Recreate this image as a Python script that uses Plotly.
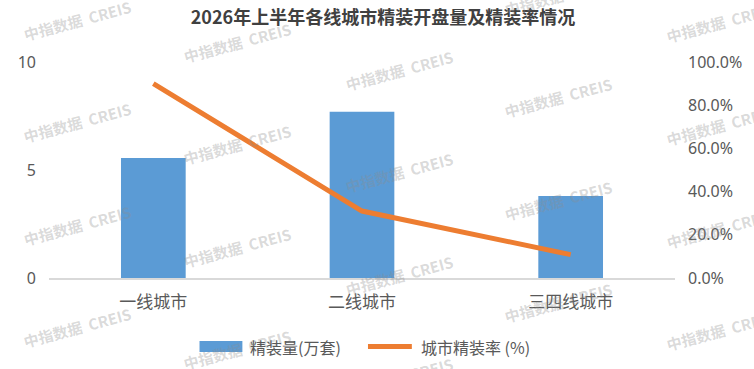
import plotly.graph_objects as go

categories = ["一线城市", "二线城市", "三四线城市"]
volume = [5.55, 7.7, 3.8]          # 精装量(万套)
rate = [0.90, 0.31, 0.108]         # 城市精装率
left_ticks = [0, 5, 10]
right_ticks = [0, 0.2, 0.4, 0.6, 0.8, 1.0]

title_text = "2026年上半年各线城市精装开盘量及精装率情况"
bar_name = "精装量(万套)"
line_name = "城市精装率 (%)"
watermark = "中指数据  CREIS"

CJK = "Noto Sans CJK SC"
GRAY = "#595959"
BLUE = "#5B9BD5"
ORANGE = "#ED7D31"

W, H = 754, 369
ML, MR, MT, MB = 49, 77, 62, 91
PW, PH = W - ML - MR, H - MT - MB


def px(x):
    return (x - ML) / PW


def py(y):
    return (H - MB - y) / PH


fig = go.Figure()
fig.add_trace(go.Bar(x=categories, y=volume, name=bar_name,
                     marker=dict(color=BLUE, line=dict(width=0)),
                     yaxis="y", showlegend=False))
fig.add_trace(go.Scatter(x=categories, y=rate, name=line_name, mode="lines",
                         line=dict(color=ORANGE, width=5),
                         yaxis="y2", showlegend=False))

annotations = []
shapes = []

# watermark grid
col_x = [77, 238, 400, 560, 722]
col_y0 = [20, 42, 70, -5, 23]
for cx, cy in zip(col_x, col_y0):
    for k in range(5):
        y = cy + 102.5 * k
        if y > 400:
            continue
        annotations.append(dict(
            text=watermark, x=px(cx), y=py(y), xref="paper", yref="paper",
            xanchor="center", yanchor="middle", showarrow=False, textangle=-15,
            font=dict(family=CJK, size=15, color="rgba(140,140,140,0.33)", weight="bold")))

# legend (drawn)
shapes.append(dict(type="rect", xref="paper", yref="paper",
                   x0=px(200), x1=px(243), y0=py(352), y1=py(341),
                   fillcolor=BLUE, line=dict(width=0)))
shapes.append(dict(type="line", xref="paper", yref="paper",
                   x0=px(369), x1=px(413), y0=py(346.5), y1=py(346.5),
                   line=dict(color=ORANGE, width=5)))
annotations.append(dict(text=bar_name, x=px(249), y=py(346.5), xref="paper", yref="paper",
                        xanchor="left", yanchor="middle", showarrow=False,
                        font=dict(family=CJK, size=16, color=GRAY)))
annotations.append(dict(text=line_name, x=px(420), y=py(346.5), xref="paper", yref="paper",
                        xanchor="left", yanchor="middle", showarrow=False,
                        font=dict(family=CJK, size=16, color=GRAY)))

fig.update_layout(
    width=W, height=H,
    margin=dict(l=ML, r=MR, t=MT, b=MB),
    paper_bgcolor="white", plot_bgcolor="white",
    title=dict(text=title_text, x=383 / W, xanchor="center", y=1 - 18 / H, yanchor="middle",
               font=dict(family=CJK, size=18, color="#404040", weight="bold")),
    bargap=0.69,
    showlegend=False,
    xaxis=dict(showgrid=False, showline=True, linecolor="#D9D9D9", linewidth=2,
               ticks="", tickfont=dict(family=CJK, size=17, color=GRAY),
               ticklabelstandoff=8),
    yaxis=dict(range=[0, 10], tickvals=left_ticks, showgrid=False, zeroline=False,
               showline=False, ticks="", ticklabelstandoff=12,
               tickfont=dict(family="Noto Sans", size=16, color=GRAY)),
    yaxis2=dict(range=[0, 1], tickvals=right_ticks, tickformat=".1%", overlaying="y",
                side="right", showgrid=False, zeroline=False, showline=False, ticks="",
                ticklabelstandoff=12,
                tickfont=dict(family="Noto Sans", size=16, color=GRAY)),
    annotations=annotations,
    shapes=shapes,
)

fig.write_html("out.html")
